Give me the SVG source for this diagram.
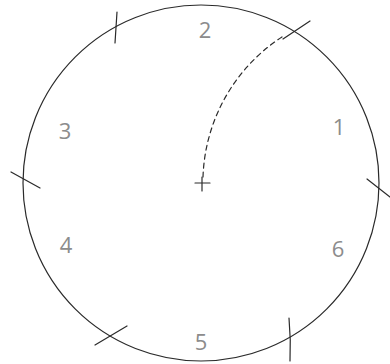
<svg xmlns="http://www.w3.org/2000/svg" width="390" height="364" viewBox="0 0 390 364">
<style>
.ln{fill:none;stroke:#2a2a2a;stroke-width:1.2;stroke-linecap:round}
.num{font-family:"Open Sans","Liberation Sans",sans-serif;font-size:22px;fill:#8c8c8c;text-anchor:middle}
</style>
<rect width="390" height="364" fill="#ffffff"/>
<g id="circle">
<circle class="ln" cx="201" cy="183" r="178"/>
</g>
<g id="ticks">
<line class="ln" x1="117" y1="12" x2="115" y2="43"/>
<line class="ln" x1="283" y1="39" x2="310" y2="21"/>
<line class="ln" x1="11" y1="172" x2="40" y2="188"/>
<line class="ln" x1="367" y1="179" x2="390" y2="197"/>
<line class="ln" x1="95" y1="345" x2="127" y2="326"/>
<path class="ln" d="M289 318 Q291 340 290 361"/>
</g>
<g id="connectors">
<path class="ln" d="M203 177 A174 174 0 0 1 285 35" stroke-dasharray="5 4" stroke-width="1.3"/>
</g>
<g id="center">
<line class="ln" x1="195" y1="183" x2="210" y2="183"/>
<line class="ln" x1="202" y1="177" x2="202" y2="191"/>
</g>
<g id="labels">
<text class="num" x="205" y="38">2</text>
<text class="num" x="65" y="139">3</text>
<text class="num" x="339" y="135">1</text>
<text class="num" x="66" y="253">4</text>
<text class="num" x="338" y="257">6</text>
<text class="num" x="201" y="350">5</text>
</g>
</svg>
